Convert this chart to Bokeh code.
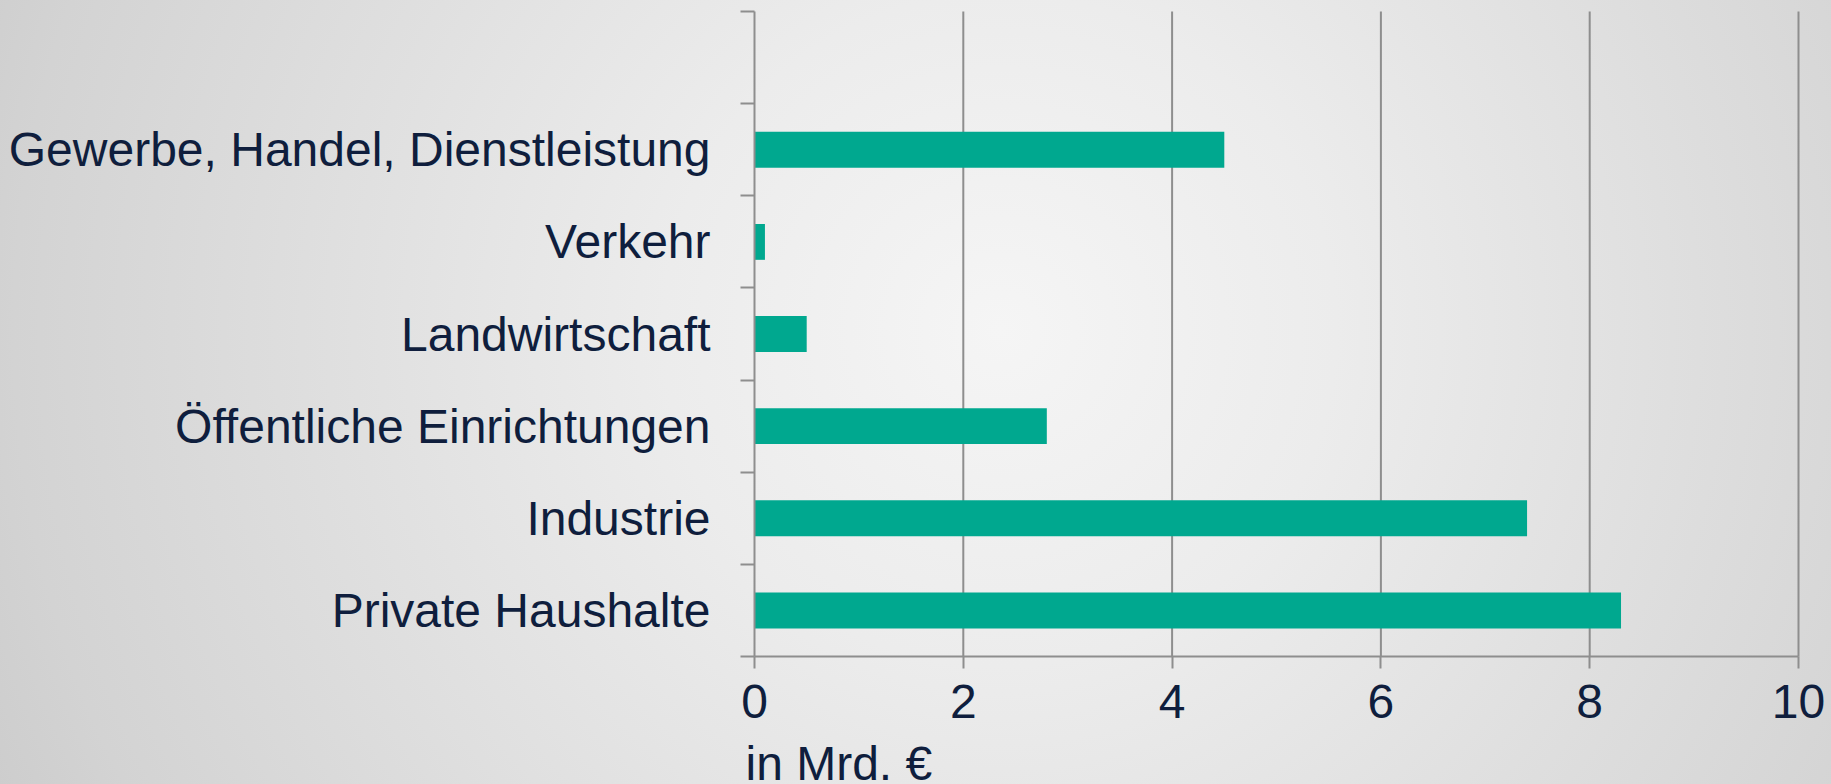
from bokeh.plotting import figure
from bokeh.models import FixedTicker, Range1d, Label, ColumnDataSource
from bokeh.embed import file_html
from bokeh.resources import INLINE

categories = ["Private Haushalte", "Industrie", "Öffentliche Einrichtungen",
              "Landwirtschaft", "Verkehr", "Gewerbe, Handel, Dienstleistung"]
values = [8.3, 7.4, 2.8, 0.5, 0.1, 4.5]
x_ticks = [0, 2, 4, 6, 8, 10]
x_title = "in Mrd. €"

n_slots = len(categories) + 1  # top slot stays empty
positions = [i + 0.5 for i in range(len(categories))]

TEXT = "#0f1e3d"
GRAY = "#8e8e8e"
BAR = "#00a88f"
FONT = "Liberation Sans"

# layout in pixels (the frame covers the whole canvas; axes are pinned at 0)
W, H = 1831, 784
left_px, right_px = 754, 1798
top_px, axis_px = 11, 656
x_max = x_ticks[-1]
px_per_x = (right_px - left_px) / x_max
px_per_slot = (axis_px - top_px) / n_slots
x_range = Range1d(-left_px / px_per_x, x_max + (W - right_px) / px_per_x)
y_range = Range1d(-(H - axis_px) / px_per_slot, n_slots + top_px / px_per_slot)

p = figure(width=W, height=H, output_backend="svg", toolbar_location=None,
           x_range=x_range, y_range=y_range,
           min_border_left=0, min_border_right=0, min_border_top=0,
           min_border_bottom=0)
p.background_fill_color = None
p.border_fill_color = None
p.outline_line_color = None
p.styles = {"background": "radial-gradient(circle 1120px at 1000px 330px, #f5f5f5 0%, #ececec 30%, #dfdfdf 60%, #d3d3d3 88%, #cccccc 100%)"}

# vertical grid lines (stop at the x axis)
grid_x = [t for t in x_ticks if t > 0]
p.segment(x0=grid_x, y0=[0] * len(grid_x), x1=grid_x, y1=[n_slots] * len(grid_x),
          line_color=GRAY, line_width=2)

src = ColumnDataSource(dict(y=positions, v=values, cat=categories))
p.hbar(y="y", right="v", left=0, height=0.39, source=src, color=BAR, line_color=None)

# x axis, fixed at y = 0
xa = p.xaxis[0]
xa.fixed_location = 0
xa.bounds = (0, x_max)
xa.ticker = FixedTicker(ticks=x_ticks, minor_ticks=[])
xa.axis_line_color = GRAY
xa.axis_line_width = 2
xa.major_tick_line_color = GRAY
xa.major_tick_line_width = 2
xa.major_tick_out = 12
xa.major_tick_in = 0
xa.minor_tick_line_color = None
xa.major_label_text_font = FONT
xa.major_label_text_font_size = "48px"
xa.major_label_text_color = TEXT
xa.major_label_standoff = 16

# y axis, fixed at x = 0
ya = p.yaxis[0]
ya.fixed_location = 0
ya.bounds = (0, n_slots)
ya.ticker = FixedTicker(ticks=positions, minor_ticks=list(range(n_slots + 1)))
ya.major_label_overrides = {pos: cat for pos, cat in zip(positions, categories)}
ya.axis_line_color = GRAY
ya.axis_line_width = 2
ya.major_tick_line_color = None
ya.major_tick_out = 0
ya.major_tick_in = 0
ya.minor_tick_line_color = GRAY
ya.minor_tick_line_width = 2
ya.minor_tick_out = 14
ya.minor_tick_in = 0
ya.major_label_text_font = FONT
ya.major_label_text_font_size = "48px"
ya.major_label_text_color = TEXT
ya.major_label_standoff = 30

p.xgrid.grid_line_color = None
p.ygrid.grid_line_color = None

lab = Label(x=0, y=-(736 - axis_px) / px_per_slot, text=x_title,
            text_baseline="top", text_align="left", x_offset=-9,
            text_font=FONT, text_font_size="48px", text_color=TEXT)
p.add_layout(lab)

open("out.html", "w").write(file_html(p, INLINE))
